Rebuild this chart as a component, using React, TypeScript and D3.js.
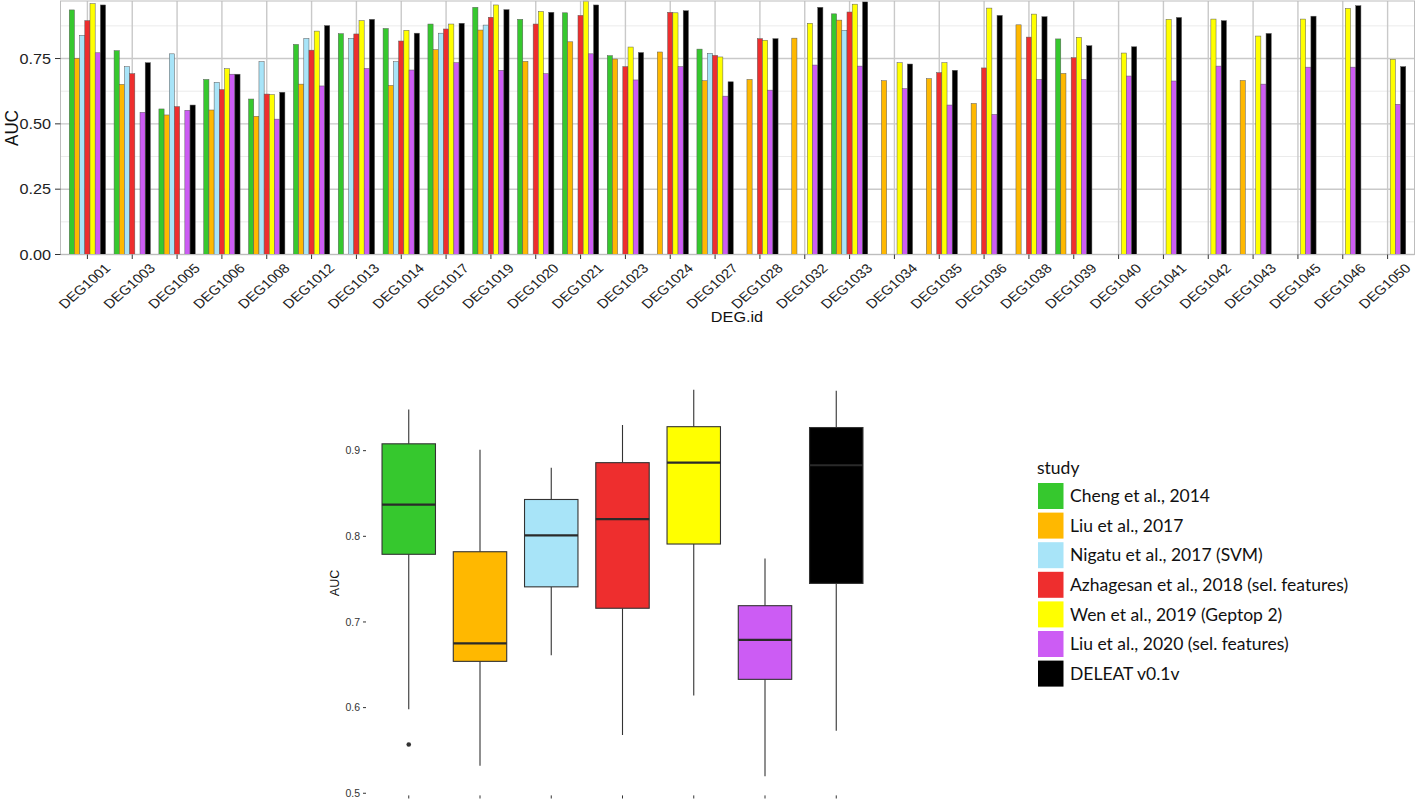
import * as d3 from 'd3'

// DEG ids on the x axis of the bar chart
const degIds = [
  'DEG1001', 'DEG1003', 'DEG1005', 'DEG1006', 'DEG1008', 'DEG1012', 'DEG1013', 'DEG1014',
  'DEG1017', 'DEG1019', 'DEG1020', 'DEG1021', 'DEG1023', 'DEG1024', 'DEG1027', 'DEG1028',
  'DEG1032', 'DEG1033', 'DEG1034', 'DEG1035', 'DEG1036', 'DEG1038', 'DEG1039', 'DEG1040',
  'DEG1041', 'DEG1042', 'DEG1043', 'DEG1045', 'DEG1046', 'DEG1050',
]

const studies = [
  'Cheng et al., 2014',
  'Liu et al., 2017',
  'Nigatu et al., 2017 (SVM)',
  'Azhagesan et al., 2018 (sel. features)',
  'Wen et al., 2019 (Geptop 2)',
  'Liu et al., 2020 (sel. features)',
  'DELEAT v0.1v',
]
const studyColors = ['#36C82E', '#FFB800', '#A8E4F8', '#EE2E2E', '#FFFF00', '#CC5CF4', '#000000']

// AUC per DEG id, null = not available (same order as degIds)
const cheng = [0.936, 0.780, 0.557, 0.670, 0.595, 0.804, 0.845, 0.865, 0.882, 0.946, 0.900, 0.925, 0.761, null, 0.786, null, null, 0.921, null, null, null, null, 0.825, null, null, null, null, null, null, null]
const liu2017 = [0.751, 0.651, 0.534, 0.553, 0.529, 0.652, null, 0.647, 0.784, 0.859, 0.739, 0.814, 0.748, 0.775, 0.665, 0.670, 0.828, 0.897, 0.665, 0.673, 0.578, 0.879, 0.693, null, null, null, 0.666, null, null, null]
const nigatu = [0.839, 0.719, 0.768, 0.659, 0.738, 0.827, 0.827, 0.738, 0.847, 0.878, null, null, null, null, 0.770, null, null, 0.858, null, null, null, null, null, null, null, null, null, null, null, null]
const azhagesan = [0.895, 0.692, 0.566, 0.631, 0.614, 0.782, 0.844, 0.817, 0.863, 0.908, 0.882, 0.915, 0.719, 0.927, 0.762, 0.826, null, 0.928, null, 0.696, 0.714, 0.832, 0.753, null, null, null, null, null, null, null]
const wen = [0.960, null, null, 0.711, 0.612, 0.855, 0.895, 0.858, 0.882, 0.955, 0.930, 0.970, 0.794, 0.925, 0.756, 0.820, 0.885, 0.958, 0.734, 0.734, 0.943, 0.920, 0.831, 0.771, 0.900, 0.901, 0.836, 0.901, 0.942, 0.747]
const liu2020 = [0.772, 0.544, 0.552, 0.690, 0.518, 0.645, 0.712, 0.706, 0.734, 0.705, 0.692, 0.768, 0.668, 0.719, 0.606, 0.629, 0.725, 0.721, 0.635, 0.572, 0.536, 0.670, 0.670, 0.683, 0.664, 0.721, 0.652, 0.717, 0.717, 0.575]
const deleat = [0.955, 0.734, 0.572, 0.690, 0.621, 0.876, 0.900, 0.847, 0.885, 0.937, 0.927, 0.955, 0.773, 0.933, 0.661, 0.826, 0.946, 0.967, 0.729, 0.705, 0.915, 0.910, 0.799, 0.795, 0.907, 0.895, 0.846, 0.912, 0.952, 0.719]

// box plot stats per study
const boxLow = [0.598, 0.532, 0.661, 0.568, 0.614, 0.520, 0.573]
const boxQ1 = [0.779, 0.654, 0.741, 0.716, 0.791, 0.633, 0.745]
const boxMedian = [0.837, 0.675, 0.801, 0.820, 0.886, 0.679, 0.883]
const boxQ3 = [0.908, 0.782, 0.843, 0.886, 0.928, 0.719, 0.927]
const boxHigh = [0.948, 0.901, 0.880, 0.930, 0.971, 0.774, 0.970]
const outliers = [{ study: 0, value: 0.557 }]

const barTicks = [0, 0.25, 0.5, 0.75]
const barMinor = [0.125, 0.375, 0.625, 0.875]
const boxTicks = [0.5, 0.6, 0.7, 0.8, 0.9]

const aucByStudy = [cheng, liu2017, nigatu, azhagesan, wen, liu2020, deleat]

// the upper panel is stretched sideways in the figure, so its texts get an x stretch too
const stretch = 1.12
const labelStretch = 1.15

const App = () => {
  // ---- top bar chart
  const x = d3.scaleBand().domain(degIds).range([60.5, 1414.5]).paddingOuter(0.1)
  const step = x.step()
  const dodge = d3.scaleBand().domain(studies).range([-0.405 * step, 0.405 * step])
  const y = d3.scaleLinear().domain([0, 0.974]).range([254.5, 0])
  const cx = (id) => x(id) + x.bandwidth() / 2

  const bars = []
  aucByStudy.forEach((vals, s) => {
    vals.forEach((v, i) => {
      if (v == null) return
      bars.push({ s, id: degIds[i], v })
    })
  })

  // ---- bottom box plot
  const bx = d3.scaleBand().domain(studies).range([366, 879]).paddingOuter(0.1)
  const by = d3.scaleLinear().domain([0.4975, 0.9936]).range([795.4, 370.5])
  const boxW = bx.bandwidth() * 0.75
  const bcx = (s) => bx(studies[s]) + bx.bandwidth() / 2

  const sans = '"Liberation Sans", Arial, sans-serif'

  return (
    <svg width={1416} height={802} style={{ position: 'absolute', left: 0, top: 0, background: '#fff' }}>
      {/* grid */}
      {barMinor.map(t => (
        <line key={'mn' + t} x1={60.5} x2={1414.5} y1={y(t)} y2={y(t)} stroke="#E6E6E6" strokeWidth={0.8} />
      ))}
      {barTicks.map(t => (
        <line key={'mj' + t} x1={60.5} x2={1414.5} y1={y(t)} y2={y(t)} stroke="#C9C9C9" strokeWidth={1.4} />
      ))}
      {degIds.map(id => (
        <line key={'v' + id} x1={cx(id)} x2={cx(id)} y1={1} y2={254.5} stroke="#C9C9C9" strokeWidth={1.4} />
      ))}

      {/* bars */}
      {bars.map(b => (
        <rect
          key={b.id + b.s}
          x={cx(b.id) + dodge(studies[b.s])}
          y={y(b.v)}
          width={dodge.bandwidth()}
          height={y(0) - y(b.v)}
          fill={studyColors[b.s]}
          stroke="#5a5a5a"
          strokeWidth={0.5}
        />
      ))}
      <rect x={60.5} y={1} width={1354} height={253.5} fill="none" stroke="#BDBDBD" strokeWidth={1} />

      {/* y axis top */}
      {barTicks.map(t => (
        <g key={'yt' + t}>
          <line x1={55} x2={60.5} y1={y(t)} y2={y(t)} stroke="#333" strokeWidth={1} />
          <text
            transform={`translate(51,${y(t)}) scale(${stretch},1)`}
            dy="0.35em"
            textAnchor="end"
            fontFamily={sans}
            fontSize={14.5}
            fill="#222"
          >
            {d3.format('.2f')(t)}
          </text>
        </g>
      ))}
      <text transform={`translate(18,128) scale(${stretch},1) rotate(-90)`} textAnchor="middle" fontFamily={sans} fontSize={17} fill="#111">AUC</text>

      {/* x axis top */}
      {degIds.map(id => (
        <g key={'xt' + id}>
          <line x1={cx(id)} x2={cx(id)} y1={254.5} y2={259} stroke="#333" strokeWidth={1} />
          <text
            transform={`translate(${cx(id) - 3},${286}) scale(${labelStretch},1) rotate(-45)`}
            textAnchor="middle"
            dy="0.35em"
            fontFamily={sans}
            fontSize={13}
            fill="#222"
          >
            {id}
          </text>
        </g>
      ))}
      <text transform={`translate(737,322) scale(${stretch},1)`} textAnchor="middle" fontFamily={sans} fontSize={14.5} fill="#111">DEG.id</text>

      {/* box plot */}
      {studies.map((st, s) => {
        const c = bcx(s)
        return (
          <g key={'box' + s}>
            <line x1={c} x2={c} y1={by(boxHigh[s])} y2={by(boxQ3[s])} stroke="#333" strokeWidth={1.1} />
            <line x1={c} x2={c} y1={by(boxQ1[s])} y2={by(boxLow[s])} stroke="#333" strokeWidth={1.1} />
            <rect
              x={c - boxW / 2}
              y={by(boxQ3[s])}
              width={boxW}
              height={by(boxQ1[s]) - by(boxQ3[s])}
              fill={studyColors[s]}
              stroke="#333"
              strokeWidth={1.1}
            />
            <line x1={c - boxW / 2} x2={c + boxW / 2} y1={by(boxMedian[s])} y2={by(boxMedian[s])} stroke="#2a2a2a" strokeWidth={2.2} />
            <line x1={c} x2={c} y1={795.4} y2={798.5} stroke="#333" strokeWidth={1} />
          </g>
        )
      })}
      {outliers.map((o, i) => (
        <circle key={'o' + i} cx={bcx(o.study)} cy={by(o.value)} r={2.3} fill="#333" />
      ))}
      {boxTicks.map(t => (
        <g key={'bt' + t}>
          <line x1={363} x2={366} y1={by(t)} y2={by(t)} stroke="#333" strokeWidth={1} />
          <text x={360} y={by(t)} dy="0.35em" textAnchor="end" fontFamily={sans} fontSize={10.5} fill="#333">
            {t.toFixed(1)}
          </text>
        </g>
      ))}
      <text transform="translate(339,583) rotate(-90)" textAnchor="middle" fontFamily={sans} fontSize={12.5} fill="#111">AUC</text>

      {/* legend */}
      <text x={1037} y={468} dy="0.35em" fontFamily="Lato, sans-serif" fontSize={17.5} fill="#111">study</text>
      {studies.map((st, s) => (
        <g key={'lg' + s} transform={`translate(1038,${483 + s * 29.6})`}>
          <rect x={0} y={0} width={25.5} height={26} fill={studyColors[s]} />
          <text x={32} y={13} dy="0.35em" fontFamily="Lato, sans-serif" fontSize={17.5} fill="#111">{st}</text>
        </g>
      ))}
    </svg>
  )
}

export default App
